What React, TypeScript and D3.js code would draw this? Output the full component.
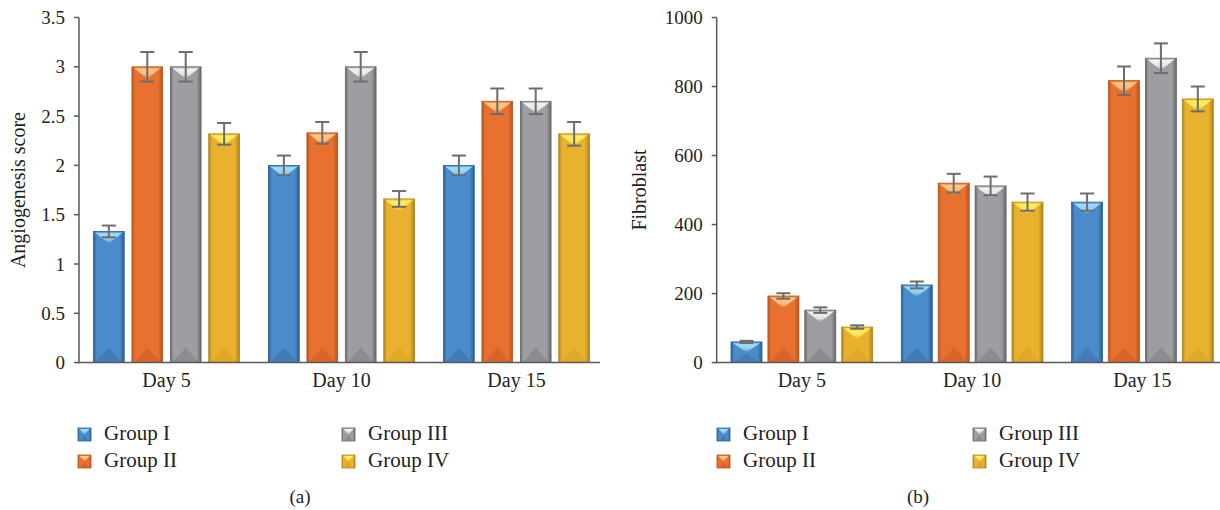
import React from "react";
import * as d3 from "d3";

const days = ["Day 5", "Day 10", "Day 15"];
const groups = ["Group I", "Group II", "Group III", "Group IV"];

// Angiogenesis score (panel a)
const angioGroupI = [1.33, 2.0, 2.0];
const angioGroupII = [3.0, 2.33, 2.65];
const angioGroupIII = [3.0, 3.0, 2.65];
const angioGroupIV = [2.32, 1.66, 2.32];
const angioErrI = [0.06, 0.1, 0.1];
const angioErrII = [0.15, 0.11, 0.13];
const angioErrIII = [0.15, 0.15, 0.13];
const angioErrIV = [0.11, 0.08, 0.12];
const angioTicks = [0, 0.5, 1, 1.5, 2, 2.5, 3, 3.5];
const angioTickLabels = ["0", "0.5", "1", "1.5", "2", "2.5", "3", "3.5"];

// Fibroblast (panel b)
const fibroGroupI = [60, 225, 465];
const fibroGroupII = [193, 520, 817];
const fibroGroupIII = [152, 512, 882];
const fibroGroupIV = [103, 465, 764];
const fibroErrI = [3, 10, 25];
const fibroErrII = [8, 27, 41];
const fibroErrIII = [8, 27, 43];
const fibroErrIV = [5, 25, 36];
const fibroTicks = [0, 200, 400, 600, 800, 1000];
const fibroTickLabels = ["0", "200", "400", "600", "800", "1000"];

const palette = [
  { base: "#4a8cca", edge: "#2c5f92", light: "#9fdcf5", dark: "#3a70a8" },
  { base: "#e8712f", edge: "#b8531c", light: "#fbc98a", dark: "#c85a22" },
  { base: "#9d9ea2", edge: "#66676b", light: "#f2f2f2", dark: "#7d7e82" },
  { base: "#e8b12e", edge: "#b0831a", light: "#fbf060", dark: "#d8a020" },
];

const FONT = "'Liberation Serif', 'Times New Roman', serif";
const TEXT = "#231f20";

function Defs() {
  return (
    <defs>
      {palette.map((c, i) => (
        <React.Fragment key={i}>
          <linearGradient id={`hg${i}`} x1="0" x2="1" y1="0" y2="0">
            <stop offset="0" stopColor={c.edge} />
            <stop offset="0.1" stopColor={c.base} />
            <stop offset="0.5" stopColor={c.base} />
            <stop offset="0.85" stopColor={c.base} />
            <stop offset="1" stopColor={c.edge} />
          </linearGradient>
          <linearGradient id={`tg${i}`} x1="0" x2="0" y1="0" y2="1">
            <stop offset="0" stopColor={c.base} />
            <stop offset="0.15" stopColor={c.light} />
            <stop offset="0.6" stopColor={c.light} stopOpacity="0.85" />
            <stop offset="1" stopColor={c.base} />
          </linearGradient>
        </React.Fragment>
      ))}
    </defs>
  );
}

function Bar({ x, y, w, h, ci }: { x: number; y: number; w: number; h: number; ci: number }) {
  const c = palette[ci];
  const xc = x + w / 2;
  const topH = Math.min(12, h * 0.5);
  const botH = Math.min(15, h * 0.45);
  return (
    <g>
      <rect x={x} y={y} width={w} height={h} fill={`url(#hg${ci})`} stroke={c.edge} strokeWidth={0.8} />
      <polygon
        points={`${x + 1},${y + 0.5} ${x + w - 1},${y + 0.5} ${xc},${y + topH}`}
        fill={`url(#tg${ci})`}
      />
      <polygon
        points={`${x + 2},${y + h} ${x + w - 2},${y + h} ${xc},${y + h - botH}`}
        fill={c.dark}
        opacity={0.55}
      />
    </g>
  );
}

type PanelProps = {
  values: number[][];
  errors: number[][];
  ticks: number[];
  tickLabels: string[];
  yMax: number;
  axisX: number;
  bandW: number;
  innerStart: number;
  innerWidth: number;
  innerPad: number;
  axisEnd: number;
  title: string;
  titleX: number;
  legendX1: number;
  legendX2: number;
  caption: string;
  captionX: number;
};

function Panel(p: PanelProps) {
  const yTop = 17.5;
  const yBot = 362.6;
  const y = d3.scaleLinear().domain([0, p.yMax]).range([yBot, yTop]);
  const x0 = d3
    .scaleBand<string>()
    .domain(days)
    .range([p.axisX, p.axisX + p.bandW * days.length])
    .paddingInner(0)
    .paddingOuter(0);
  const x1 = d3
    .scaleBand<string>()
    .domain(groups)
    .range([p.innerStart, p.innerStart + p.innerWidth])
    .paddingInner(p.innerPad)
    .paddingOuter(0);
  const bw = x1.bandwidth();
  return (
    <g>
      {days.map((d, di) =>
        groups.map((g, gi) => {
          const v = p.values[gi][di];
          const bx = (x0(d) as number) + (x1(g) as number);
          const by = y(v);
          return <Bar key={d + g} x={bx} y={by} w={bw} h={yBot - by} ci={gi} />;
        })
      )}
      {days.map((d, di) =>
        groups.map((g, gi) => {
          const v = p.values[gi][di];
          const e = p.errors[gi][di];
          const cx = (x0(d) as number) + (x1(g) as number) + bw / 2;
          const yHi = y(v + e);
          const yLo = y(v - e);
          return (
            <g key={"e" + d + g} stroke="#6d6d6d" strokeWidth={2}>
              <line x1={cx} x2={cx} y1={yHi} y2={yLo} />
              <line x1={cx - 7} x2={cx + 7} y1={yHi} y2={yHi} />
              <line x1={cx - 7} x2={cx + 7} y1={yLo} y2={yLo} />
            </g>
          );
        })
      )}
      <line x1={p.axisX} x2={p.axisX} y1={yTop} y2={yBot} stroke="#58595b" strokeWidth={1.5} />
      <line x1={p.axisX - 1} x2={p.axisEnd} y1={yBot} y2={yBot} stroke="#58595b" strokeWidth={1.5} />
      {p.ticks.map((t, i) => (
        <g key={t}>
          <line x1={p.axisX - 5} x2={p.axisX} y1={y(t)} y2={y(t)} stroke="#58595b" strokeWidth={1.5} />
          <text
            x={p.axisX - 14}
            y={y(t)}
            dy="0.35em"
            textAnchor="end"
            fontFamily={FONT}
            fontSize={19}
            fill={TEXT}
          >
            {p.tickLabels[i]}
          </text>
        </g>
      ))}
      {days.map((d) => (
        <text
          key={d}
          x={(x0(d) as number) + p.bandW / 2}
          y={387}
          textAnchor="middle"
          fontFamily={FONT}
          fontSize={20}
          fill={TEXT}
        >
          {d}
        </text>
      ))}
      <text
        transform={`translate(${p.titleX},${(yTop + yBot) / 2}) rotate(-90)`}
        textAnchor="middle"
        fontFamily={FONT}
        fontSize={20}
        fill={TEXT}
      >
        {p.title}
      </text>
      {groups.map((g, gi) => {
        const lx = gi < 2 ? p.legendX1 : p.legendX2;
        const ly = gi % 2 === 0 ? 428 : 455;
        return (
          <g key={"l" + g}>
            <Bar x={lx} y={ly} w={13} h={13} ci={gi} />
            <text x={lx + 26} y={ly + 12} fontFamily={FONT} fontSize={21} fill={TEXT}>
              {g}
            </text>
          </g>
        );
      })}
      <text x={p.captionX} y={503} textAnchor="middle" fontFamily={FONT} fontSize={19} fill={TEXT}>
        {p.caption}
      </text>
    </g>
  );
}

export default function App() {
  const angioValues = [angioGroupI, angioGroupII, angioGroupIII, angioGroupIV];
  const angioErrors = [angioErrI, angioErrII, angioErrIII, angioErrIV];
  const fibroValues = [fibroGroupI, fibroGroupII, fibroGroupIII, fibroGroupIV];
  const fibroErrors = [fibroErrI, fibroErrII, fibroErrIII, fibroErrIV];
  return (
    <svg
      width={1220}
      height={510}
      style={{ position: "absolute", left: 0, top: 0, background: "#fff" }}
    >
      <Defs />
      <Panel
        values={angioValues}
        errors={angioErrors}
        ticks={angioTicks}
        tickLabels={angioTickLabels}
        yMax={3.5}
        axisX={79}
        bandW={175}
        innerStart={14.5}
        innerWidth={146}
        innerPad={0.2}
        axisEnd={600}
        title="Angiogenesis score"
        titleX={25}
        legendX1={78}
        legendX2={342}
        caption="(a)"
        captionX={300}
      />
      <Panel
        values={fibroValues}
        errors={fibroErrors}
        ticks={fibroTicks}
        tickLabels={fibroTickLabels}
        yMax={1000}
        axisX={716.7}
        bandW={170.3}
        innerStart={14.3}
        innerWidth={141.7}
        innerPad={0.16}
        axisEnd={1220}
        title="Fibroblast"
        titleX={646}
        legendX1={717}
        legendX2={973}
        caption="(b)"
        captionX={918}
      />
    </svg>
  );
}
